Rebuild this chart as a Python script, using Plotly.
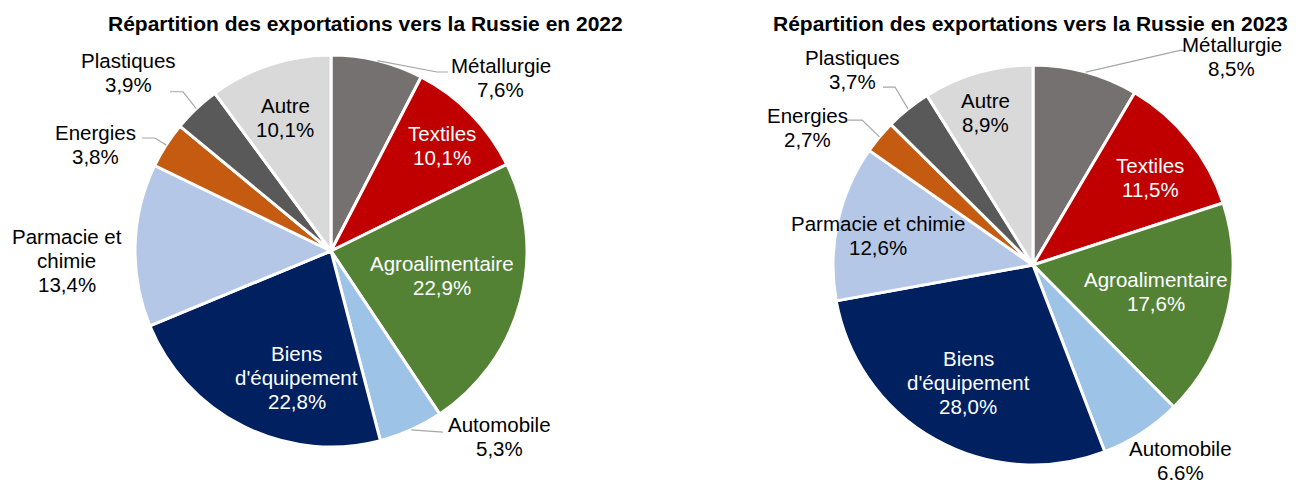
import math
import plotly.graph_objects as go

# ---------------- data ----------------
categories = ["Métallurgie", "Textiles", "Agroalimentaire", "Automobile",
              "Biens d'équipement", "Parmacie et chimie", "Energies",
              "Plastiques", "Autre"]
values_2022 = [7.6, 10.1, 22.9, 5.3, 22.8, 13.4, 3.8, 3.9, 10.1]
values_2023 = [8.5, 11.5, 17.6, 6.6, 28.0, 12.6, 2.7, 3.7, 8.9]
titles = ["Répartition des exportations vers la Russie en 2022",
          "Répartition des exportations vers la Russie en 2023"]
label_lines_2022 = [["Métallurgie"], ["Textiles"], ["Agroalimentaire"], ["Automobile"],
                    ["Biens", "d'équipement"], ["Parmacie et", "chimie"],
                    ["Energies"], ["Plastiques"], ["Autre"]]
label_lines_2023 = [["Métallurgie"], ["Textiles"], ["Agroalimentaire"], ["Automobile"],
                    ["Biens", "d'équipement"], ["Parmacie et chimie"],
                    ["Energies"], ["Plastiques"], ["Autre"]]
decimal_sep_2022 = [","] * 9
decimal_sep_2023 = [",", ",", ",", ".", ",", ",", ",", ",", ","]

# ---------------- style ----------------
W, H = 1296, 484
FONT = "Arial, Liberation Sans, sans-serif"
colors = ["#767171", "#C00000", "#548235", "#9DC3E6", "#002060",
          "#B4C7E7", "#C55A11", "#595959", "#D9D9D9"]
text_colors = ["black", "white", "white", "black", "white",
               "black", "black", "black", "black"]
pies = [dict(cx=331, cy=251, r=196, title_x=366, title_y=23),
        dict(cx=1033, cy=265, r=200, title_x=1030, title_y=23)]
# label placement (angle clockwise from 12 o'clock, distance in radii)
label_polar = [
    [(44.3, 1.24), (46.6, 0.78), (102.7, 0.58), (137.7, 1.28), (195.1, 0.67),
     (268.0, 1.35), (294.4, 1.32), (311.4, 1.38), (341.1, 0.72)],
    [(43.7, 1.44), (53.4, 0.73), (102.3, 0.63), (142.9, 1.225), (208.8, 0.67),
     (280.9, 0.79), (301.5, 1.32), (317.3, 1.33), (342.6, 0.80)],
]
# leader lines: slice index -> (elbow angle, elbow distance in radii, horizontal tail px)
leaders = [
    {0: (30.6, 1.061, 11), 3: (148.3, 1.086, 0), 6: (302.7, 1.067, -13), 7: (317.1, 1.109, -13)},
    {0: (34.4, 1.30, 5), 6: (310.3, 1.12, -14), 7: (322.2, 1.126, -12)},
]
LABEL_SIZE = 20.5
TITLE_SIZE = 21
LINE_H = 24


def px(x):
    return x / W


def py(y):
    return 1 - y / H


def polar(p, ang, dist):
    a = math.radians(ang)
    return p["cx"] + dist * p["r"] * math.sin(a), p["cy"] - dist * p["r"] * math.cos(a)


fig = go.Figure()
annotations = []
shapes = []

for k, (vals, lines, seps) in enumerate([(values_2022, label_lines_2022, decimal_sep_2022),
                                          (values_2023, label_lines_2023, decimal_sep_2023)]):
    p = pies[k]
    fig.add_trace(go.Pie(
        labels=categories, values=vals, sort=False, direction="clockwise", rotation=0,
        marker=dict(colors=colors, line=dict(color="white", width=3)),
        textinfo="none", hoverinfo="label+value", showlegend=False,
        domain=dict(x=[px(p["cx"] - p["r"]), px(p["cx"] + p["r"])],
                    y=[py(p["cy"] + p["r"]), py(p["cy"] - p["r"])]),
    ))
    total = sum(vals)
    cum = 0.0
    for i, v in enumerate(vals):
        mid = (cum + v / 2) / total * 360
        cum += v
        txt_lines = lines[i] + [f"{v:.1f}".replace(".", seps[i]) + "%"]
        lx, ly = polar(p, *label_polar[k][i])
        n = len(txt_lines)
        for j, t in enumerate(txt_lines):
            yy = ly + (j - (n - 1) / 2) * LINE_H
            annotations.append(dict(
                x=px(lx), y=py(yy), xref="paper", yref="paper", text=t,
                showarrow=False, xanchor="center", yanchor="middle",
                font=dict(family=FONT, size=LABEL_SIZE, color=text_colors[i])))
        if i in leaders[k]:
            ea, ed, tail = leaders[k][i]
            sx, sy = polar(p, mid, 1.0)
            ex, ey = polar(p, ea, ed)
            path = (f"M {px(sx)},{py(sy)} L {px(ex)},{py(ey)} "
                    f"L {px(ex + tail)},{py(ey)}")
            shapes.append(dict(type="path", path=path, xref="paper", yref="paper",
                               line=dict(color="#A6A6A6", width=1.2)))
    annotations.append(dict(
        x=px(p["title_x"]), y=py(p["title_y"]), xref="paper", yref="paper",
        text=f"<b>{titles[k]}</b>", showarrow=False, xanchor="center", yanchor="middle",
        font=dict(family=FONT, size=TITLE_SIZE, color="black")))

fig.update_layout(
    width=W, height=H, margin=dict(l=0, r=0, t=0, b=0),
    paper_bgcolor="white", plot_bgcolor="white",
    annotations=annotations, shapes=shapes,
)
fig.write_html("out.html", config={"displayModeBar": False},
               post_script="document.body.style.margin='0px';")
